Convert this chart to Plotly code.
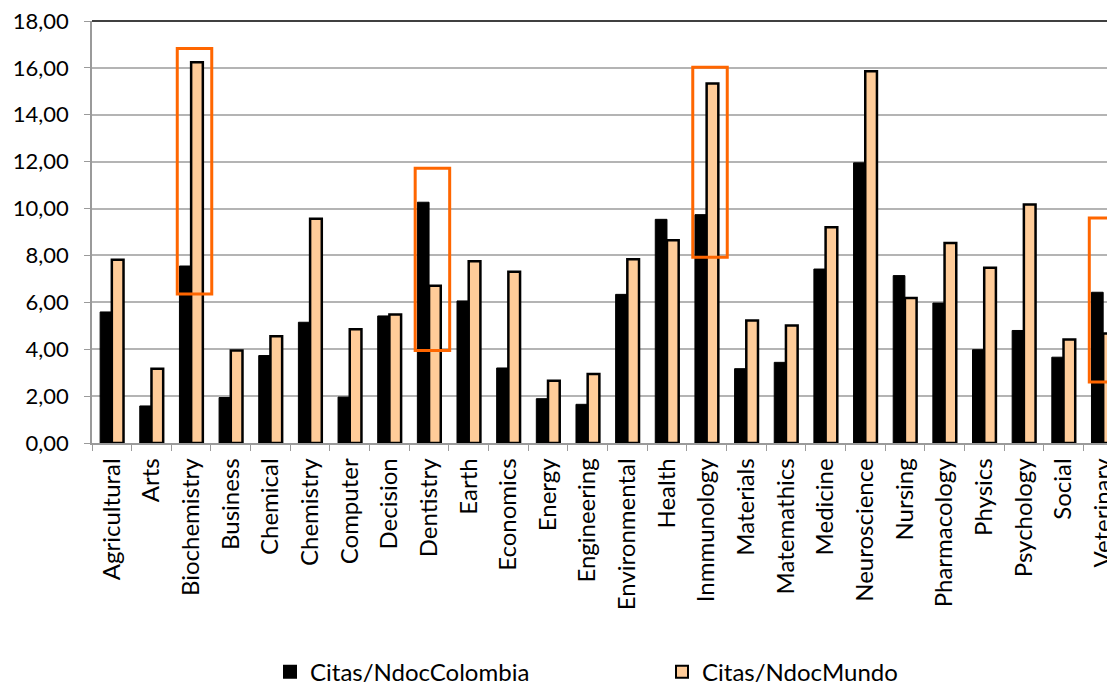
import plotly.graph_objects as go

categories = ["Agricultural", "Arts", "Biochemistry", "Business", "Chemical", "Chemistry",
              "Computer", "Decision", "Dentistry", "Earth", "Economics", "Energy",
              "Engineering", "Environmental", "Health", "Inmmunology", "Materials",
              "Matemathics", "Medicine", "Neuroscience", "Nursing", "Pharmacology",
              "Physics", "Psychology", "Social", "Veterinary"]

colombia = [5.59, 1.58, 7.55, 1.94, 3.73, 5.15, 1.96, 5.42, 10.27, 6.06, 3.20, 1.89,
            1.65, 6.34, 9.54, 9.74, 3.17, 3.44, 7.42, 11.95, 7.14, 5.97, 3.98, 4.80,
            3.66, 6.43]

mundo = [7.82, 3.17, 16.24, 3.95, 4.55, 9.57, 4.85, 5.48, 6.71, 7.75, 7.30, 2.66,
         2.94, 7.84, 8.65, 15.33, 5.23, 5.01, 9.20, 15.86, 6.19, 8.53, 7.48, 10.17,
         4.42, 4.67]

y_ticks = [0, 2, 4, 6, 8, 10, 12, 14, 16, 18]

# highlighted categories: (category, low value, high value)
highlight_cats = ["Biochemistry", "Dentistry", "Inmmunology", "Veterinary"]
highlight_low = [6.36, 3.95, 7.92, 2.60]
highlight_high = [16.83, 11.72, 16.03, 9.60]

FONT = "Lato"

fig = go.Figure()
fig.add_trace(go.Bar(
    x=categories, y=colombia, name="Citas/NdocColombia",
    marker=dict(color="#000000", line=dict(color="#000000", width=1)),
))
fig.add_trace(go.Bar(
    x=categories, y=mundo, name="Citas/NdocMundo",
    marker=dict(color="#FFCC99", line=dict(color="#000000", width=2.5)),
))

shapes = []
for cat, lo, hi in zip(highlight_cats, highlight_low, highlight_high):
    i = categories.index(cat)
    shapes.append(dict(type="rect", xref="x", yref="y",
                       x0=i - 0.35, x1=i + 0.52, y0=lo, y1=hi,
                       line=dict(color="#FF6600", width=3), fillcolor="rgba(0,0,0,0)",
                       layer="above"))
shapes.append(dict(type="line", xref="paper", yref="paper", x0=0, x1=1, y0=1, y1=1,
                   line=dict(color="#000000", width=1.5), layer="above"))

fig.update_layout(
    width=1115, height=684,
    margin=dict(l=84, r=0, t=13, b=249),
    paper_bgcolor="white", plot_bgcolor="white",
    separators=",.",
    barmode="group", bargap=0.41, bargroupgap=0,
    font=dict(family=FONT, color="#000000"),
    shapes=shapes,
    showlegend=True,
    legend=dict(orientation="h", xref="container", yref="container",
                x=0.235, y=0.029, xanchor="left", yanchor="middle",
                entrywidth=347, entrywidthmode="pixels",
                font=dict(family=FONT, size=24, color="#000000"),
                itemsizing="constant"),
)

fig.update_xaxes(
    range=[-0.5, 25.5], automargin=False,
    tickangle=-90, tickson="boundaries",
    ticks="outside", ticklen=6, tickcolor="#9A9A9A", tickwidth=1,
    showline=True, linecolor="#9A9A9A", linewidth=1.5,
    showgrid=False, ticklabelstandoff=4, ticklabeloverflow="allow",
    tickfont=dict(family=FONT, size=24, color="#000000"),
)
fig.update_yaxes(
    range=[0, 18.0001], tickvals=y_ticks, tickformat=".2f", automargin=False,
    ticks="outside", ticklen=6, tickcolor="#9A9A9A", tickwidth=1,
    showline=True, linecolor="#9A9A9A", linewidth=1.5,
    showgrid=True, gridcolor="#B4B4B4", gridwidth=1.5,
    ticklabelstandoff=11, ticklabeloverflow="allow",
    tickfont=dict(family=FONT, size=22, color="#000000"),
    zeroline=False,
)

fig.write_html("out.html")
